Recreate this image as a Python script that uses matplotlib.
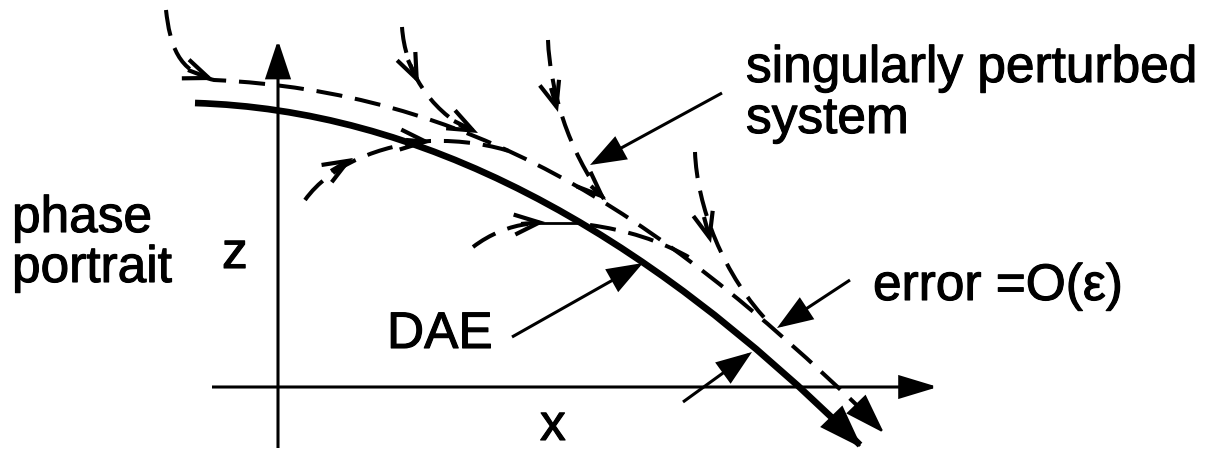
import matplotlib
matplotlib.use("Agg")
import matplotlib.pyplot as plt
import matplotlib.patheffects as pe
from matplotlib.path import Path
from matplotlib.patches import PathPatch, FancyArrowPatch, ArrowStyle

plt.rcParams['font.family'] = ['Liberation Sans', 'DejaVu Sans']

# canvas is laid out in pixel units (x right, y down)
W, H = 1211, 450

# axes of the phase plane
z_axis = [(278, 448), (278, 40)]
x_axis = [(212, 387), (938, 387)]

# slow manifold of the DAE (quadratic bezier) and its end arrow
dae_curve = [(195, 103), (528, 113), (860, 445)]
dae_head = [(832, 417), (862, 448)]

# singularly perturbed trajectories (cubic bezier control points)
main_traj = [(166, 10), (170, 45), (178, 72), (214, 80),
             (467, 92), (652, 207), (866, 414)]
main_head = [(852, 400), (884, 433)]
v1_traj = [(402, 27), (405, 70), (428, 108), (470, 131)]
v2_traj = [(548, 40), (550, 90), (568, 150), (604, 199)]
v3_traj = [(695, 152), (697, 205), (722, 275), (772, 326)]
b1_traj = [(305, 200), (330, 165), (380, 145), (430, 141),
           (462, 140), (492, 145), (515, 153)]
b2_traj = [(473, 247), (490, 234), (510, 226), (528, 224)]
b2_link = [(528, 223), (577, 223)]
b2_tail = [(590, 225), (625, 230), (660, 240), (692, 259)]

# open arrowheads along the trajectories: (tail, tip)
chevrons = [((188, 70), (214, 80)),
            ((408, 60), (419, 84)),
            ((454, 121), (478, 133)),
            ((551, 88), (558, 112)),
            ((591, 186), (606, 200)),
            ((704, 217), (711, 243)),
            ((331, 171), (353, 158)),
            ((406, 140), (431, 142)),
            ((521, 224), (545, 222))]

# label pointers: (tail, tip)
pointers = [((722, 93), (590, 165)),
            ((512, 337), (643, 263)),
            ((850, 280), (777, 328)),
            ((683, 402), (752, 352))]

# labels: (text, x, baseline y)
labels = [("singularly perturbed", 746, 82),
          ("system", 746, 133),
          ("phase", 12, 232),
          ("portrait", 12, 282),
          ("z", 222, 268),
          ("DAE", 387, 348),
          ("x", 540, 440),
          ("error =O(\u03b5)", 873, 300)]

PX = 0.72  # points per pixel at dpi 100

fig = plt.figure(figsize=(W / 100, H / 100), dpi=100)
ax = fig.add_axes([0, 0, 1, 1])
ax.set_xlim(0, W)
ax.set_ylim(H, 0)
ax.axis('off')


def bezier(points, order=4):
    code = Path.CURVE4 if order == 4 else Path.CURVE3
    codes = [Path.MOVETO] + [code] * (len(points) - 1)
    return Path(points, codes)


def head(tail, tip, length, half, lw=1.0, style='-|>'):
    st = ArrowStyle(style, head_length=length * PX, head_width=half * PX)
    ax.add_patch(FancyArrowPatch(tail, tip, arrowstyle=st, mutation_scale=1,
                                 lw=lw, color='k', shrinkA=0, shrinkB=0,
                                 capstyle='butt', joinstyle='miter'))


dash_lw = 2.9
dash = (0, (6.5, 3.2))

# axes
head(z_axis[0], z_axis[1], 33, 11, lw=2.2)
head(x_axis[0], x_axis[1], 33, 10, lw=2.2)

# DAE curve
ax.add_patch(PathPatch(bezier(dae_curve, order=3), fill=False, lw=4.8,
                       color='k', capstyle='butt'))
head(dae_head[0], dae_head[1], 40, 14, lw=1.5)

# perturbed trajectories
for tr in [main_traj, v1_traj, v2_traj, v3_traj, b1_traj, b2_traj, b2_tail]:
    ax.add_patch(PathPatch(bezier(tr), fill=False, lw=dash_lw, color='k',
                           linestyle=dash, capstyle='butt'))
ax.plot([p[0] for p in b2_link], [p[1] for p in b2_link], color='k', lw=2.0)
head(main_head[0], main_head[1], 36, 12, lw=1.5)

for tail, tip in chevrons:
    head(tail, tip, 25, 10, lw=3.0, style='->')

for tail, tip in pointers:
    head(tail, tip, 30, 11, lw=2.2)

bold = [pe.withStroke(linewidth=0.8, foreground='k')]
for txt, x, y in labels:
    ax.text(x, y, txt, fontsize=37, ha='left', va='baseline', color='k',
            path_effects=bold)

fig.savefig('out.png', dpi=100, facecolor='white')
